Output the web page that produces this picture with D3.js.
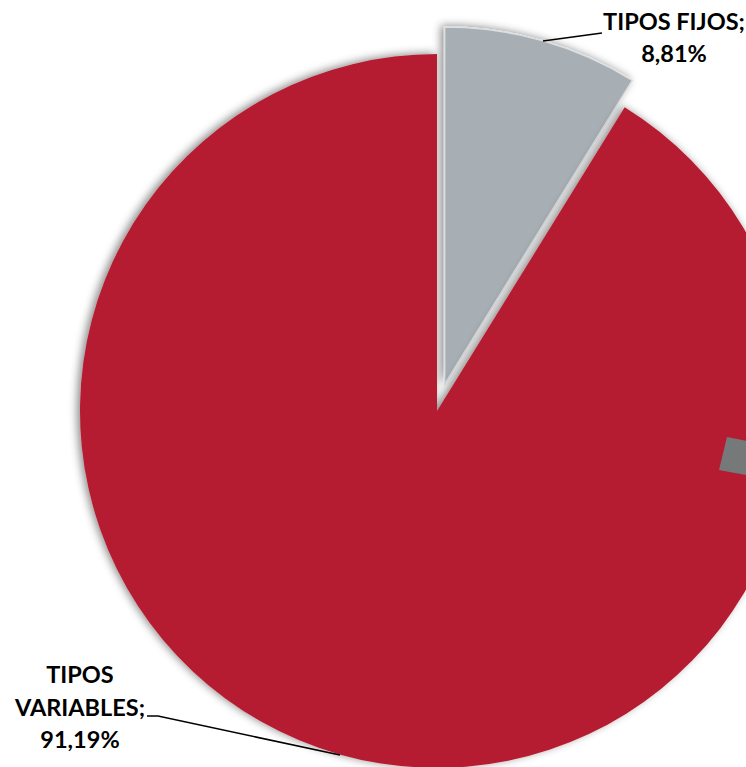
<!DOCTYPE html>
<html><head><meta charset="utf-8">
<script src="https://cdn.jsdelivr.net/npm/d3@7"></script>
<style>html,body{margin:0;padding:0;background:#fff;overflow:hidden}</style>
</head><body>
<svg id="chart" width="746" height="767"></svg>
<script>
const categories = ["TIPOS FIJOS", "TIPOS VARIABLES"];
const values = [8.81, 91.19];
const valueLabels = ["8,81%", "91,19%"];
const colors = ["#A7AEB4", "#B51F31"];

const svg = d3.select("#chart");
const cx = 437, cy = 411, R = 357, explode = 28;

const defs = svg.append("defs");
const f = defs.append("filter").attr("id","sh").attr("x","-20%").attr("y","-20%").attr("width","140%").attr("height","140%");
f.append("feDropShadow").attr("dx",-3).attr("dy",-1).attr("stdDeviation",4).attr("flood-color","#000").attr("flood-opacity",0.45);

const pie = d3.pie().sort(null).value(d => d)(values);
const arc = d3.arc().innerRadius(0).outerRadius(R);

const g = svg.append("g").attr("transform", `translate(${cx},${cy})`);
g.selectAll("path").data(pie).join("path")
  .attr("d", arc)
  .attr("fill", (d,i) => colors[i])
  .attr("stroke", (d,i) => i === 0 ? "#dcdfe2" : "none")
  .attr("stroke-width", 1.5)
  .attr("filter", "url(#sh)")
  .attr("transform", (d,i) => {
    if (i !== 0) return null;
    const a = (d.startAngle + d.endAngle) / 2;
    return `translate(${explode*Math.sin(a)},${-explode*Math.cos(a)})`;
  });

// small dark marker at right edge
svg.append("path")
  .attr("d", "M727,437 L752,442 L746,475 L719,470 Z")
  .attr("fill", "#76797a");

// leader lines
svg.append("polyline").attr("points", "543,41 602,33")
  .attr("fill","none").attr("stroke","#000").attr("stroke-width",1.6);
svg.append("polyline").attr("points", "147,716 158,716 340,755")
  .attr("fill","none").attr("stroke","#000").attr("stroke-width",1.6);

const font = "Lato, 'Open Sans', sans-serif";
function label(lines, x, y0, dy) {
  const t = svg.append("text").attr("text-anchor","middle")
    .attr("font-family", font).attr("font-weight", "bold").attr("font-size", 23.5).attr("fill","#000");
  lines.forEach((l, k) => t.append("tspan").attr("x", x).attr("y", y0 + k*dy).text(l));
}
label([categories[0] + ";", valueLabels[0]], 674, 30, 32);
label(["TIPOS", "VARIABLES;", valueLabels[1]], 80, 683, 32.5);
</script>
</body></html>
